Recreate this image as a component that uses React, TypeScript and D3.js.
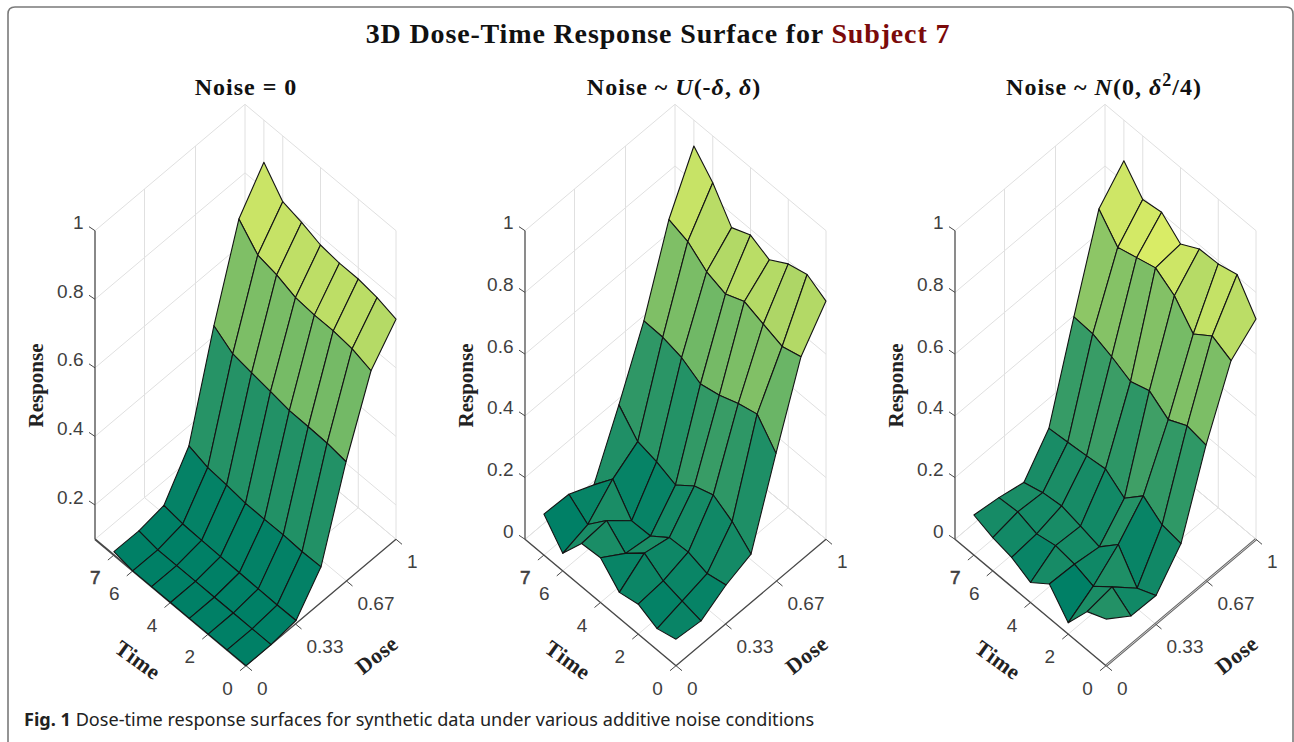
import React from "react";
import * as d3 from "d3";

const width = 1294;
const height = 742;

const doseLevels = [0, 1 / 6, 2 / 6, 3 / 6, 4 / 6, 5 / 6, 1];
const timeLevels = [0, 1, 2, 3, 4, 5, 6, 7];
const timeTicks = [0, 2, 4, 6, 7];
const doseTicks = [0, 0.33, 0.67, 1];
const doseTickLabels = ["0", "0.33", "0.67", "1"];
const responseTicksA = [0.2, 0.4, 0.6, 0.8, 1];
const responseTicksB = [0, 0.2, 0.4, 0.6, 0.8, 1];

// rows: dose level, columns: time level
const surfaceClean = [
  [0.1, 0.1, 0.1, 0.1, 0.1, 0.1, 0.1, 0.11],
  [0.1, 0.1, 0.1, 0.1, 0.1, 0.1, 0.1, 0.109],
  [0.109, 0.108, 0.109, 0.11, 0.111, 0.112, 0.114, 0.122],
  [0.204, 0.202, 0.205, 0.204, 0.205, 0.212, 0.217, 0.234],
  [0.449, 0.457, 0.459, 0.46, 0.469, 0.478, 0.487, 0.523],
  [0.653, 0.671, 0.677, 0.677, 0.682, 0.702, 0.714, 0.773],
  [0.742, 0.759, 0.767, 0.767, 0.774, 0.794, 0.808, 0.877],
];
const surfaceUniform = [
  [0.086, 0.069, 0.097, 0.084, 0.145, 0.14, 0.057, 0.133],
  [0.077, 0.09, 0.104, 0.143, 0.091, 0.146, 0.082, 0.129],
  [0.125, 0.111, 0.129, 0.125, 0.079, 0.077, 0.161, 0.091],
  [0.157, 0.211, 0.246, 0.224, 0.176, 0.2, 0.214, 0.282],
  [0.415, 0.491, 0.474, 0.45, 0.435, 0.469, 0.484, 0.486],
  [0.66, 0.642, 0.663, 0.685, 0.658, 0.679, 0.726, 0.746],
  [0.772, 0.807, 0.79, 0.752, 0.781, 0.754, 0.848, 0.916],
];
const surfaceNormal = [
  [0.151, 0.124, 0.037, 0.111, 0.065, 0.095, 0.108, 0.13],
  [0.093, 0.136, 0.087, 0.107, 0.116, 0.103, 0.123, 0.118],
  [0.091, 0.063, 0.154, 0.095, 0.111, 0.125, 0.117, 0.099],
  [0.191, 0.2, 0.243, 0.184, 0.228, 0.219, 0.212, 0.206],
  [0.442, 0.453, 0.422, 0.464, 0.443, 0.472, 0.495, 0.499],
  [0.647, 0.676, 0.631, 0.704, 0.743, 0.725, 0.707, 0.78],
  [0.714, 0.807, 0.79, 0.787, 0.752, 0.804, 0.794, 0.868],
];

const TIME_MAX = 8;
const serif = "'Liberation Serif', serif";
const sans = "'Liberation Sans', Arial, sans-serif";

type PanelProps = {
  cx: number;
  z: number[][];
  zMin: number;
  zTicks: number[];
  heavyTime?: boolean;
  doubleDose?: boolean;
};

function Panel({ cx, z, zMin, zTicks, heavyTime, doubleDose }: PanelProps) {
  const front = 665.7;
  const doseX = d3.scaleLinear().domain([0, 1]).range([0, 150]);
  const doseY = d3.scaleLinear().domain([0, 1]).range([0, -126.4]);
  const timeX = d3.scaleLinear().domain([0, TIME_MAX]).range([0, -151]);
  const timeY = d3.scaleLinear().domain([0, TIME_MAX]).range([0, -126.4]);
  const zY = d3.scaleLinear().domain([zMin, 1]).range([0, -308.6]);
  const P = (d: number, t: number, v: number): [number, number] => [
    cx + doseX(d) + timeX(t),
    front + doseY(d) + timeY(t) + zY(v),
  ];
  const pts = (a: [number, number][]) => a.map((p) => p.join(",")).join(" ");
  const flat = z.flat();
  const color = d3
    .scaleLinear<string>()
    .domain(d3.extent(flat) as [number, number])
    .range(["#008066", "#ffff66"]);

  const grid = "#e0e0e0";
  const axis = "#484848";
  const gridLines: [number, number][][] = [];
  zTicks.concat(zMin).forEach((v) => {
    gridLines.push([P(0, TIME_MAX, v), P(1, TIME_MAX, v), P(1, 0, v)]);
  });
  doseTicks.forEach((d) => {
    gridLines.push([P(d, 0, zMin), P(d, TIME_MAX, zMin), P(d, TIME_MAX, 1)]);
  });
  timeTicks.forEach((t) => {
    gridLines.push([P(0, t, zMin), P(1, t, zMin), P(1, t, 1)]);
  });

  const cells: React.ReactElement[] = [];
  for (let i = timeLevels.length - 2; i >= 0; i--) {
    for (let j = doseLevels.length - 2; j >= 0; j--) {
      const d0 = doseLevels[j];
      const d1 = doseLevels[j + 1];
      const t0 = timeLevels[i];
      const t1 = timeLevels[i + 1];
      cells.push(
        <polygon
          key={`${i}-${j}`}
          points={pts([
            P(d0, t0, z[j][i]),
            P(d1, t0, z[j + 1][i]),
            P(d1, t1, z[j + 1][i + 1]),
            P(d0, t1, z[j][i + 1]),
          ])}
          fill={color(z[j][i])}
          stroke="#141414"
          strokeWidth={1.1}
          strokeLinejoin="round"
        />
      );
    }
  }

  const o = P(0, 0, zMin);
  const tEnd = P(0, TIME_MAX, zMin);
  const dEnd = P(1, 0, zMin);
  const zTop = P(0, TIME_MAX, 1);

  return (
    <g>
      {gridLines.map((l, k) => (
        <polyline key={k} points={pts(l)} fill="none" stroke={grid} strokeWidth={1} />
      ))}
      <line x1={tEnd[0]} y1={tEnd[1]} x2={zTop[0]} y2={zTop[1]} stroke={heavyTime ? "#666" : axis} strokeWidth={heavyTime ? 1.5 : 1.2} />
      <line x1={o[0]} y1={o[1]} x2={tEnd[0]} y2={tEnd[1]} stroke={axis} strokeWidth={heavyTime ? 2 : 1.4} />
      {doubleDose ? (
        <g>
          <line x1={o[0]} y1={o[1]} x2={dEnd[0]} y2={dEnd[1]} stroke="#666" strokeWidth={2.6} />
          <line x1={o[0]} y1={o[1]} x2={dEnd[0]} y2={dEnd[1]} stroke="#e8e8e8" strokeWidth={0.8} />
        </g>
      ) : (
        <line x1={o[0]} y1={o[1]} x2={dEnd[0]} y2={dEnd[1]} stroke={axis} strokeWidth={1.3} />
      )}
      {zTicks.map((v) => {
        const p = P(0, TIME_MAX, v);
        return (
          <g key={v}>
            <line x1={p[0]} y1={p[1]} x2={p[0] - 6} y2={p[1] - 4} stroke={axis} />
            <text x={p[0] - 11.5} y={p[1] - 1.5} textAnchor="end" fontFamily={sans} fontSize={19} fill="#404040">
              {String(v)}
            </text>
          </g>
        );
      })}
      {timeTicks.map((t) => {
        const p = P(0, t, zMin);
        return (
          <g key={t}>
            <line x1={p[0]} y1={p[1]} x2={p[0] - 6} y2={p[1] + 5} stroke={axis} />
            <text
              x={p[0] - 18.5}
              y={p[1] + 29}
              textAnchor="middle"
              fontFamily={sans}
              fontSize={19}
              fill="#404040"
              stroke={t === 7 ? "#404040" : "none"}
              strokeWidth={0.6}
            >
              {String(t)}
            </text>
          </g>
        );
      })}
      {doseTicks.map((d, k) => {
        const p = P(d, 0, zMin);
        return (
          <g key={d}>
            <line x1={p[0]} y1={p[1]} x2={p[0] + 6} y2={p[1] + 5} stroke={axis} />
            <text x={p[0] + 11} y={p[1] + 29} textAnchor="start" fontFamily={sans} fontSize={19} fill="#404040">
              {doseTickLabels[k]}
            </text>
          </g>
        );
      })}
      {cells}
      <text
        transform={`translate(${cx - 203},385.5) rotate(-90)`}
        textAnchor="middle"
        fontFamily={serif}
        fontWeight="bold"
        fontSize={21}
        fill="#222"
      >
        Response
      </text>
      <text
        transform={`translate(${cx - 109.5},662) rotate(36)`}
        textAnchor="middle"
        dominantBaseline="middle"
        fontFamily={serif}
        fontWeight="bold"
        fontSize={22}
        letterSpacing={0.4}
        fill="#222"
      >
        Time
      </text>
      <text
        transform={`translate(${cx + 132},657) rotate(-38)`}
        textAnchor="middle"
        dominantBaseline="middle"
        fontFamily={serif}
        fontWeight="bold"
        fontSize={22}
        letterSpacing={0.4}
        fill="#222"
      >
        Dose
      </text>
    </g>
  );
}

export default function App() {
  return (
    <svg
      width={width}
      height={height}
      viewBox={`0 0 ${width} ${height}`}
      style={{ position: "absolute", left: 0, top: 0, background: "#fff" }}
    >
      <path
        d="M8 760 V14 Q8 7 15 7 H1286 Q1293 7 1293 14 V760"
        fill="none"
        stroke="#7a7a7a"
        strokeWidth={1.6}
      />
      <text x={658} y={43} textAnchor="middle" fontFamily={serif} fontWeight="bold" fontSize={28} letterSpacing={0.85} fill="#111">
        3D Dose-Time Response Surface for <tspan fill="#7b0a0a">Subject 7</tspan>
      </text>
      <g fontFamily={serif} fontWeight="bold" fontSize={24} letterSpacing={1} fill="#111" textAnchor="middle">
        <text x={246} y={95}>Noise = 0</text>
        <text x={674} y={95}>
          Noise ~ <tspan fontStyle="italic">U</tspan>(-<tspan fontStyle="italic">δ</tspan>, <tspan fontStyle="italic">δ</tspan>)
        </text>
        <text x={1104} y={95}>
          Noise ~ <tspan fontStyle="italic">N</tspan>(0, <tspan fontStyle="italic">δ</tspan>
          <tspan dy={-9} fontSize={18}>2</tspan>
          <tspan dy={9}>/4)</tspan>
        </text>
      </g>
      <Panel cx={246} z={surfaceClean} zMin={0.1} zTicks={responseTicksA} heavyTime />
      <Panel cx={676} z={surfaceUniform} zMin={0} zTicks={responseTicksB} />
      <Panel cx={1106} z={surfaceNormal} zMin={0} zTicks={responseTicksB} doubleDose />
      <text x={24} y={726} fontFamily="'Noto Sans', sans-serif" fontSize={18.1} fill="#222">
        <tspan fontWeight="bold">Fig. 1</tspan> Dose-time response surfaces for synthetic data under various additive noise conditions
      </text>
    </svg>
  );
}
